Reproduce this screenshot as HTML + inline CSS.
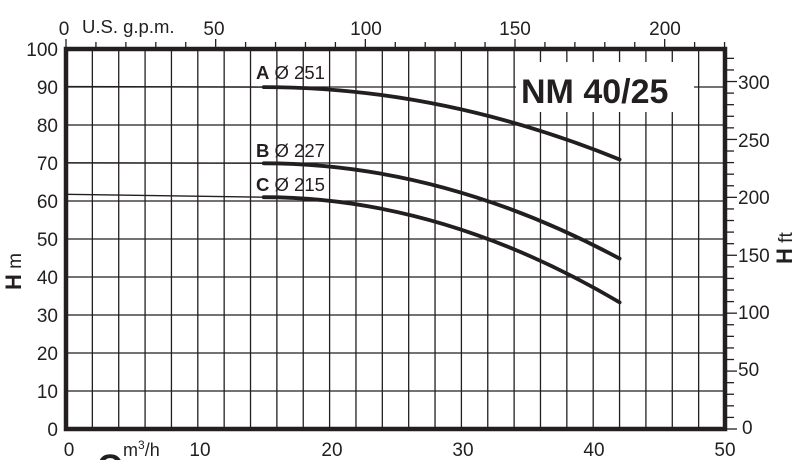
<!DOCTYPE html>
<html><head><meta charset="utf-8"><style>
html,body{margin:0;padding:0;background:#fff;width:794px;height:460px;overflow:hidden}
svg{display:block;overflow:hidden;font-family:"Liberation Sans",sans-serif;fill:#231f20}
</style></head><body>
<svg id="s" width="794" height="460" viewBox="0 0 794 460">
<defs><clipPath id="c"><rect x="0" y="0" width="794" height="460"/></clipPath></defs>
<g clip-path="url(#c)">
<g id="grid" stroke="#231f20" stroke-width="1.3"></g>
<rect x="516" y="62" width="178" height="50" fill="#fff"/>
<g id="ticks" stroke="#231f20" stroke-width="1.3"></g>
<rect x="66" y="49" width="659" height="380" fill="none" stroke="#231f20" stroke-width="4.5"/>
<g fill="none" stroke="#231f20" stroke-linecap="round">
<path d="M66 86.5 L263.7 87.1" stroke-width="1.3"/>
<path d="M263.7 87.1 Q441.6 87.1 619.6 159.5" stroke-width="3.8"/>
<path d="M66 162.8 L263.7 163.3" stroke-width="1.3"/>
<path d="M263.7 163.3 Q441.6 163.3 619.6 258.6" stroke-width="3.8"/>
<path d="M66 194.3 L263.7 197.2" stroke-width="1.3"/>
<path d="M263.7 197.2 Q441.6 197.2 619.6 302.4" stroke-width="3.8"/>
</g>
<g font-size="18.5">
<text x="256" y="79"><tspan font-weight="bold">A</tspan> Ø 251</text>
<text x="256" y="157"><tspan font-weight="bold">B</tspan> Ø 227</text>
<text x="256" y="191"><tspan font-weight="bold">C</tspan> Ø 215</text>
</g>
<text x="521" y="103" font-size="34" font-weight="bold">NM 40/25</text>
<g font-size="19" text-anchor="end">
<text x="58" y="56">100</text><text x="58" y="94">90</text><text x="58" y="132">80</text>
<text x="58" y="170">70</text><text x="58" y="208">60</text><text x="58" y="246">50</text>
<text x="58" y="284">40</text><text x="58" y="322">30</text><text x="58" y="360">20</text>
<text x="58" y="398">10</text><text x="58" y="436">0</text>
</g>
<g font-size="19" text-anchor="middle">
<text x="69" y="456">0</text><text x="200" y="456">10</text><text x="332" y="456">20</text>
<text x="463" y="456">30</text><text x="594" y="456">40</text><text x="725" y="456">50</text>
<text x="64" y="35">0</text><text x="214" y="35">50</text><text x="366" y="35">100</text>
<text x="515" y="35">150</text><text x="665" y="35">200</text>
</g>
<text x="82" y="33" font-size="18.5">U.S. g.p.m.</text>
<g font-size="19">
<text x="738" y="89">300</text><text x="738" y="147">250</text><text x="738" y="204">200</text>
<text x="738" y="262">150</text><text x="738" y="319">100</text><text x="738" y="376">50</text>
<text x="742" y="434">0</text>
</g>
<text x="123" y="456" font-size="18">m<tspan font-size="12" dy="-7">3</tspan><tspan dy="7">/h</tspan></text>
<text x="97" y="478" font-size="34" font-weight="bold">Q</text>
<text transform="translate(21,290) rotate(-90)" font-size="19"><tspan font-weight="bold" font-size="22">H</tspan> m</text>
<text transform="translate(792,264) rotate(-90)" font-size="19"><tspan font-weight="bold" font-size="22">H</tspan> ft</text>
</g>
</svg>
<script>
var ns="http://www.w3.org/2000/svg",g=document.getElementById("grid"),t=document.getElementById("ticks");
function L(p,a,b,c,d){var l=document.createElementNS(ns,"line");l.setAttribute("x1",a);l.setAttribute("y1",b);l.setAttribute("x2",c);l.setAttribute("y2",d);p.appendChild(l);}
for(var i=2;i<50;i+=2){var x=66+i*13.18;L(g,x,49,x,429);}
for(var j=10;j<100;j+=10){var y=429-j*3.8;L(g,66,y,725,y);}
for(var k=0;k<=220;k+=10){var x=66+k/4.403*13.18;if(x>727)break;L(t,x,49,x,k%50==0?39:42);}
for(var f=0;f<=330;f+=10){var y=429-f*0.3048*3.8;if(y<49)break;L(t,725,y,f%50==0?737:734,y);}
</script>
</body></html>
